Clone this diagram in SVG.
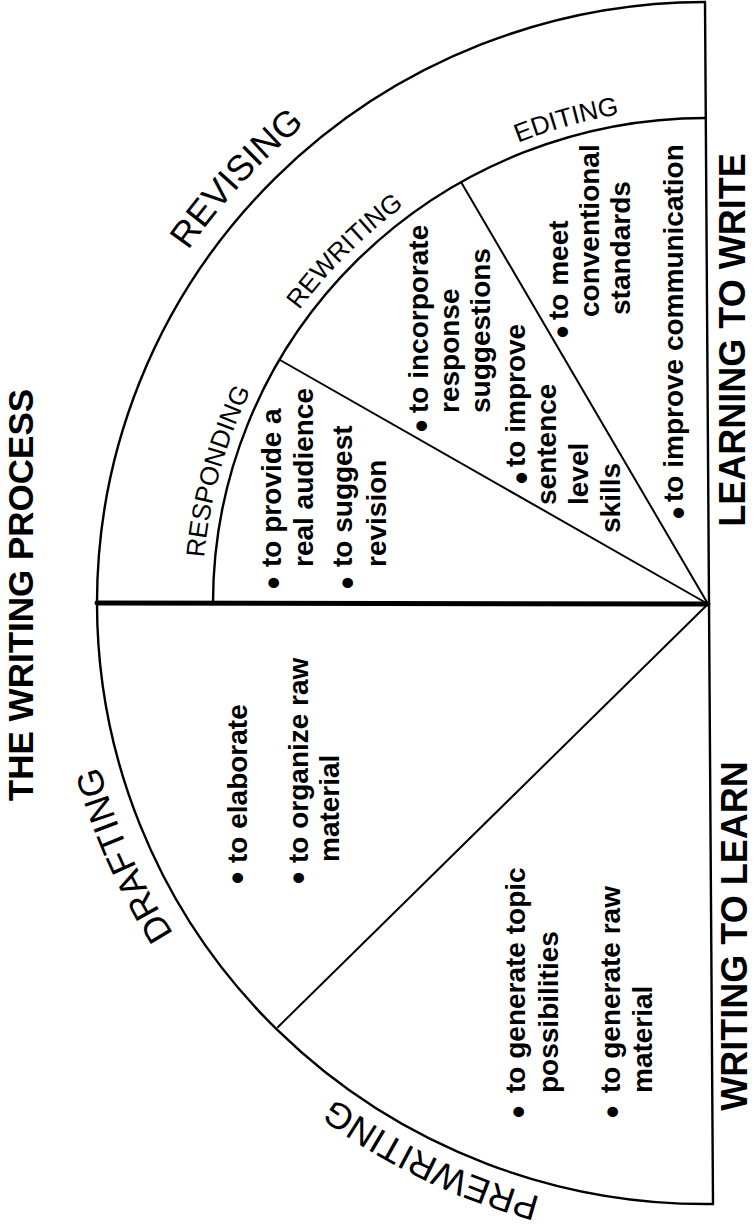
<svg xmlns="http://www.w3.org/2000/svg" width="755" height="1231" viewBox="0 0 755 1231">
<style>
 .ln{fill:none;stroke:#000;stroke-width:2.4;stroke-linecap:round}
 .thin{stroke-width:2}
 .thick{stroke-width:5}
 text{font-family:"Liberation Sans",Arial,Helvetica,sans-serif;fill:#000}
 .c{font-size:28px;font-weight:bold}
 .bu{font-size:36px;font-weight:bold}
 .title{font-size:36px;font-weight:bold;text-anchor:middle}
 .ol{font-size:36px;text-anchor:middle}
 .il{font-size:26px;text-anchor:middle}
</style>
<defs>
 <path id="outerLbl" d="M 706 1224 A 629 621 0 0 1 77 603 A 629 621 0 0 1 706 -18"/>
 <path id="bottomLbl" d="M 706 1219 A 624 616 0 0 1 82 603"/>
 <path id="innerLbl" d="M 202 603 A 504 496 0 0 1 706 107"/>
</defs>
<rect width="755" height="1231" fill="#fff"/>
<g id="connectors">
 <path class="ln" d="M 705 2 A 609 601 0 0 0 97 603 A 609 601 0 0 0 713 1204"/>
 <line class="ln" x1="705" y1="2" x2="713" y2="1204"/>
 <path class="ln" d="M 705.5 118 A 493 485 0 0 0 213 603"/>
 <line class="ln thick" x1="97" y1="603" x2="708" y2="604"/>
 <line class="ln thin" x1="708" y1="604" x2="280" y2="360"/>
 <line class="ln thin" x1="708" y1="604" x2="461" y2="182"/>
 <line class="ln thin" x1="708" y1="604" x2="278" y2="1027"/>
</g>
<g id="title-writing-process" transform="rotate(-90)">
 <text class="title" x="-595" y="33" style="font-size:35px">THE WRITING PROCESS</text>
</g>
<g id="learning-to-write" transform="rotate(-90)">
 <text class="title" x="-340" y="745">LEARNING TO WRITE</text>
</g>
<g id="writing-to-learn" transform="rotate(-90)">
 <text class="title" x="-936" y="747">WRITING TO LEARN</text>
</g>
<g id="revising">
 <text class="ol"><textPath href="#outerLbl" startOffset="73.5%">REVISING</textPath></text>
</g>
<g id="responding">
 <text class="il"><textPath href="#innerLbl" startOffset="16.9%">RESPONDING</textPath></text>
 <g transform="rotate(-90)">
  <text class="bu" x="-589.3" y="285.8">•</text>
  <text class="c" x="-567" y="281">to provide a</text>
  <text class="c" x="-567" y="313">real audience</text>
  <text class="bu" x="-589.3" y="359.8">•</text>
  <text class="c" x="-567" y="352">to suggest</text>
  <text class="c" x="-567" y="386">revision</text>
 </g>
</g>
<g id="rewriting">
 <text class="il"><textPath href="#innerLbl" startOffset="49.4%">REWRITING</textPath></text>
 <g transform="rotate(-90)">
  <text class="bu" x="-432.3" y="433.8">•</text>
  <text class="c" x="-413" y="428">to incorporate</text>
  <text class="c" x="-413" y="459">response</text>
  <text class="c" x="-413" y="490">suggestions</text>
  <text class="bu" x="-484.3" y="533.8">•</text>
  <text class="c" x="-467" y="525">to improve</text>
  <text class="c" x="-505" y="556">sentence</text>
  <text class="c" x="-505" y="588">level</text>
  <text class="c" x="-533" y="620">skills</text>
 </g>
</g>
<g id="editing">
 <text class="il"><textPath href="#innerLbl" startOffset="82.2%">EDITING</textPath></text>
 <g transform="rotate(-90)">
  <text class="bu" x="-338.3" y="574.8">•</text>
  <text class="c" x="-320" y="568">to meet</text>
  <text class="c" x="-317" y="599">conventional</text>
  <text class="c" x="-315" y="630">standards</text>
  <text class="bu" x="-519.3" y="690.8">•</text>
  <text class="c" x="-502" y="683">to improve  communication</text>
 </g>
</g>
<g id="drafting">
 <text class="ol"><textPath href="#outerLbl" startOffset="36.9%">DRAFTING</textPath></text>
 <g transform="rotate(-90)">
  <text class="bu" x="-884.3" y="249.8">•</text>
  <text class="c" x="-863" y="247">to elaborate</text>
  <text class="bu" x="-884.3" y="310.8">•</text>
  <text class="c" x="-863" y="308">to organize raw</text>
  <text class="c" x="-862" y="339">material</text>
 </g>
</g>
<g id="prewriting">
 <text class="ol"><textPath href="#bottomLbl" startOffset="29%">PREWRITING</textPath></text>
 <g transform="rotate(-90)">
  <text class="bu" x="-1118.3" y="530.8">•</text>
  <text class="c" x="-1093" y="525">to generate topic</text>
  <text class="c" x="-1093" y="558">possibilities</text>
  <text class="bu" x="-1118.3" y="624.8">•</text>
  <text class="c" x="-1093" y="620">to generate raw</text>
  <text class="c" x="-1093" y="652">material</text>
 </g>
</g>
</svg>
